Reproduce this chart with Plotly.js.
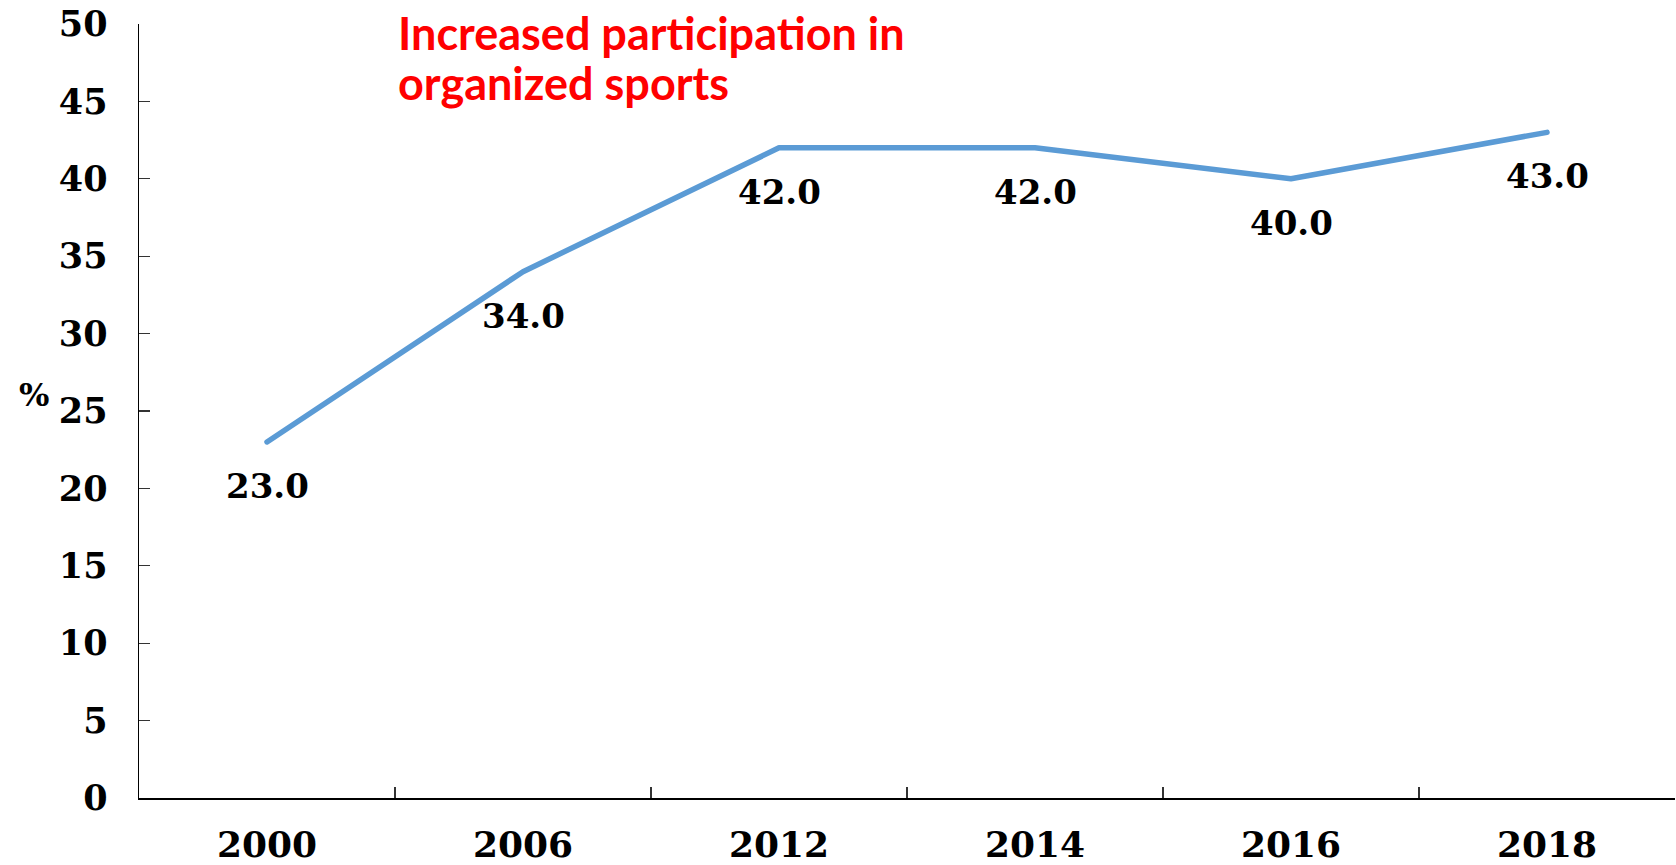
<!DOCTYPE html>
<html>
<head>
<meta charset="utf-8">
<script src="https://cdn.plot.ly/plotly-3.0.1.min.js"></script>
<style>
  html, body { margin: 0; padding: 0; background: #ffffff; }
  #chart { width: 1676px; height: 865px; }
  #chart .js-line { stroke-linecap: round !important; stroke-linejoin: round !important; }
</style>
</head>
<body>
<div id="chart"></div>
<script>
// Share of participants in organized sports, by survey year
const years = ['2000', '2006', '2012', '2014', '2016', '2018'];
const shares = [23.0, 34.0, 42.0, 42.0, 40.0, 43.0];
const yTicks = [0, 5, 10, 15, 20, 25, 30, 35, 40, 45, 50];
const headlineLines = ['Increased participation in', 'organized sports'];

const W = 1676, H = 865;
const margin = { l: 139, r: 1, t: 23.5, b: 67.3 };
const plotW = W - margin.l - margin.r;
const plotH = H - margin.t - margin.b;

const serifBold = (size) => ({ family: 'DejaVu Serif, serif', size: size, color: '#000000', weight: 'bold' });

const trace = {
  type: 'scatter',
  mode: 'lines',
  x: years,
  y: shares,
  line: { color: '#5B9BD5', width: 5.5 },
  hoverinfo: 'x+y'
};

// value labels sit under each point of the line (x is the category's serial number)
const valueLabels = years.map((yr, i) => ({
  x: i,
  y: shares[i],
  xref: 'x',
  yref: 'y',
  text: shares[i].toFixed(1),
  showarrow: false,
  xanchor: 'center',
  yanchor: 'middle',
  yshift: -44,
  font: serifBold(34)
}));

// red headline, each line placed on its own baseline (pixels from the top)
const headlineBaselines = [50, 99.5];
const headline = headlineLines.map((line, i) => ({
  x: (396 - margin.l) / plotW,
  y: (H - margin.b - headlineBaselines[i]) / plotH,
  xref: 'paper',
  yref: 'paper',
  text: line,
  showarrow: false,
  xanchor: 'left',
  yanchor: 'bottom',
  yshift: -12,
  font: { family: 'Lato, sans-serif', size: 45, color: '#FF0000', weight: 'bold' }
}));

const percentLabel = {
  x: (34 - margin.l) / plotW,
  y: (H - margin.b - 395) / plotH,
  xref: 'paper',
  yref: 'paper',
  text: '%',
  showarrow: false,
  xanchor: 'center',
  yanchor: 'middle',
  font: serifBold(32)
};

const layout = {
  width: W,
  height: H,
  margin: margin,
  paper_bgcolor: '#ffffff',
  plot_bgcolor: '#ffffff',
  showlegend: false,
  xaxis: {
    type: 'category',
    categoryarray: years,
    range: [-0.5, 5.5],
    showgrid: false,
    zeroline: false,
    showline: true,
    linecolor: '#000000',
    linewidth: 2,
    ticks: 'inside',
    tickson: 'boundaries',
    ticklen: 11,
    tickwidth: 1.2,
    tickcolor: '#333333',
    tickfont: serifBold(36),
    ticklabelstandoff: 14
  },
  yaxis: {
    range: [0, 50],
    tickvals: yTicks,
    ticktext: yTicks.map(String),
    showgrid: false,
    zeroline: false,
    showline: true,
    linecolor: '#000000',
    linewidth: 1.5,
    ticks: 'inside',
    ticklen: 11,
    tickwidth: 1.2,
    tickcolor: '#333333',
    tickfont: serifBold(35),
    ticklabelstandoff: 23
  },
  annotations: valueLabels.concat(headline, [percentLabel])
};

Plotly.newPlot('chart', [trace], layout, { displayModeBar: false, staticPlot: true });
</script>
</body>
</html>
